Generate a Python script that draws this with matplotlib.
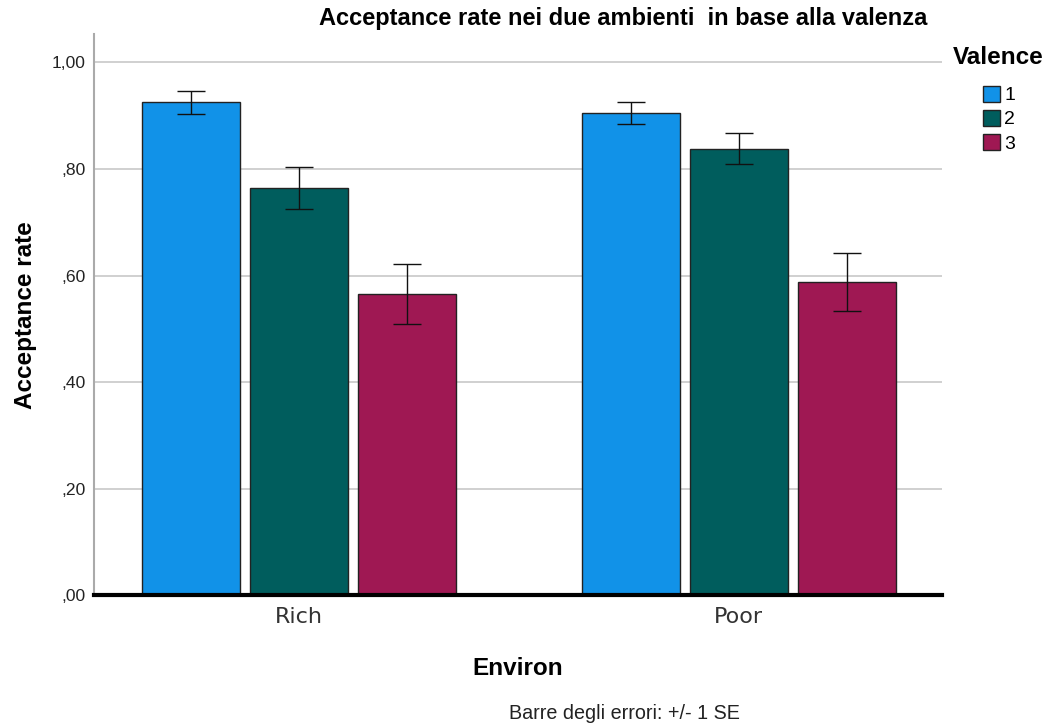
import matplotlib
matplotlib.use("Agg")
import matplotlib.pyplot as plt
from matplotlib.patches import Patch
import numpy as np

plt.rcParams['font.family'] = ['Liberation Sans', 'DejaVu Sans']

environ = ["Rich", "Poor"]
valence = ["1", "2", "3"]
rate_v1 = [0.925, 0.905]
rate_v2 = [0.764, 0.838]
rate_v3 = [0.565, 0.588]
se_v1 = [0.022, 0.020]
se_v2 = [0.039, 0.029]
se_v3 = [0.056, 0.054]
colors = ["#1192e8", "#005d5d", "#9f1853"]

fig = plt.figure(figsize=(10.48, 7.26), dpi=100)
ax = fig.add_axes([0.0897, 0.1798, 0.8093, 0.7734])

x = np.arange(len(environ))
width = 0.223
step = 0.2457
series = [(rate_v1, se_v1), (rate_v2, se_v2), (rate_v3, se_v3)]
for i, (vals, errs) in enumerate(series):
    pos = x + (i - 1) * step
    ax.bar(pos, vals, width, color=colors[i], edgecolor="#222222", linewidth=1, zorder=3)
    ax.errorbar(pos, vals, yerr=errs, fmt="none", ecolor="#111111", elinewidth=1,
                capsize=10, capthick=1, zorder=4)

ax.set_xlim(-0.466, 1.463)
ax.set_ylim(0, 1.0535)
ax.set_yticks([0, 0.2, 0.4, 0.6, 0.8, 1.0])
ax.set_yticklabels([",00", ",20", ",40", ",60", ",80", "1,00"], fontsize=12.6, color="#222222")
ax.set_xticks(x)
ax.set_xticklabels(environ, fontsize=16, color="#333333", family="DejaVu Sans")
ax.tick_params(axis="x", length=0, pad=8)
ax.tick_params(axis="y", length=0, pad=6)
ax.grid(axis="y", color="#c8c8c8", linewidth=1.2, zorder=0)

for s in ["top", "right"]:
    ax.spines[s].set_visible(False)
ax.spines["left"].set_color("#aaaaaa")
ax.spines["left"].set_linewidth(1.5)
ax.spines["bottom"].set_color("black")
ax.spines["bottom"].set_linewidth(3)
ax.spines["bottom"].set_zorder(5)

ax.set_ylabel("Acceptance rate", fontsize=17.5, fontweight="bold", labelpad=11)
ax.set_xlabel("Environ", fontsize=17.5, fontweight="bold", labelpad=22)

fig.text(0.5945, 0.975, "Acceptance rate nei due ambienti  in base alla valenza",
         ha="center", va="center", fontsize=17, fontweight="bold")
fig.text(0.596, 0.017, "Barre degli errori: +/- 1 SE", ha="center", va="center",
         fontsize=14.2, color="#222222")

handles = [Patch(facecolor=c, edgecolor="#222222") for c in colors]
leg = fig.legend(handles, valence, loc="upper left", bbox_to_anchor=(0.938, 0.882),
                 frameon=False, fontsize=14, handlelength=0.88, handleheight=0.88,
                 handletextpad=0.2, labelspacing=0.28, borderaxespad=0, borderpad=0)
fig.text(0.909, 0.921, "Valence", ha="left", va="center", fontsize=17.5, fontweight="bold")

fig.savefig("out.png", dpi=100)
